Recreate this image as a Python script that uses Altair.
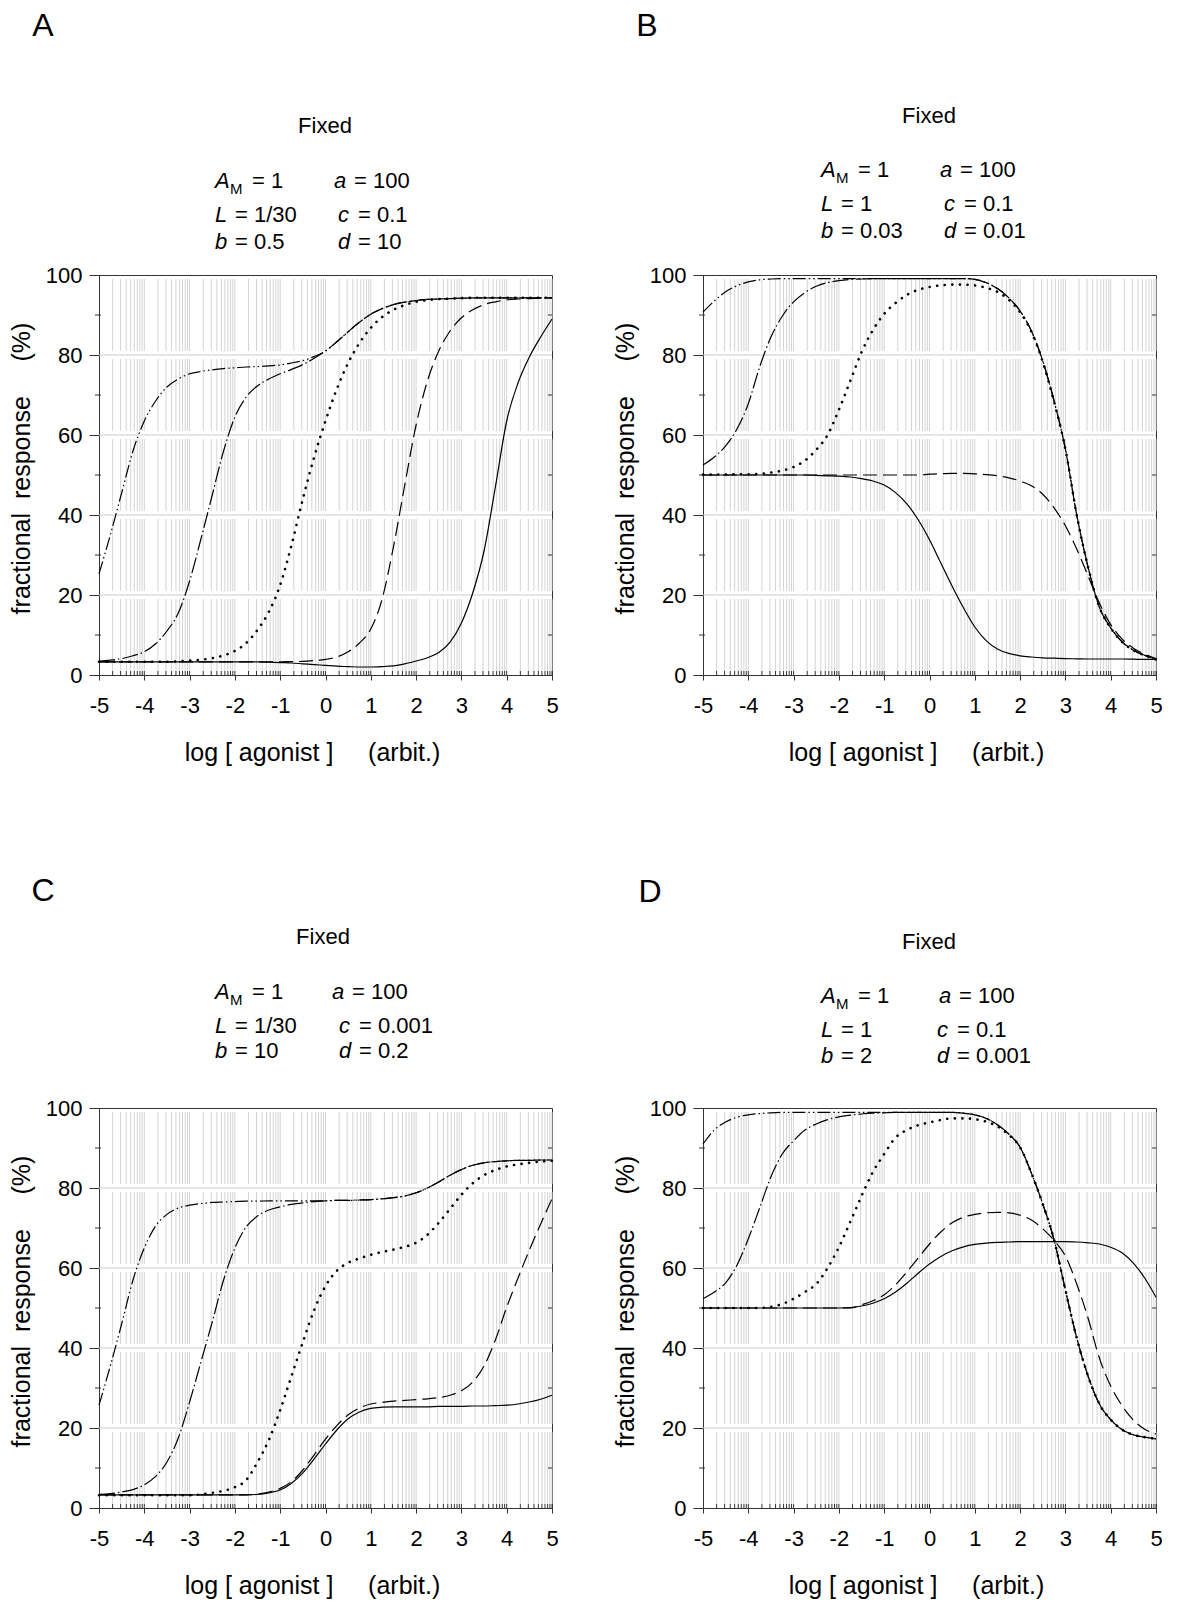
import math
import altair as alt
import pandas as pd

# ---------------- data ----------------
X = [-5.0, -4.75, -4.5, -4.25, -4.0, -3.75, -3.5, -3.25, -3.0, -2.75, -2.5, -2.25, -2.0,
     -1.75, -1.5, -1.25, -1.0, -0.75, -0.5, -0.25, 0.0, 0.25, 0.5, 0.75, 1.0, 1.25, 1.5,
     1.75, 2.0, 2.25, 2.5, 2.75, 3.0, 3.25, 3.5, 3.75, 4.0, 4.25, 4.5, 4.75, 5.0]

A1 = [25.3, 35.0, 45.5, 56.0, 63.5, 68.5, 72.0, 74.0, 75.3, 75.9, 76.3, 76.6, 76.8, 77.0, 77.1,
      77.3, 77.5, 78.0, 78.6, 79.6, 81.0, 83.3, 85.8, 88.2, 90.2, 91.6, 92.6, 93.2, 93.6, 93.9,
      94.0, 94.1, 94.2, 94.3, 94.3, 94.3, 94.3, 94.3, 94.3, 94.3, 94.3]
A2 = [3.5, 3.7, 4.1, 4.8, 5.8, 7.8, 11.0, 15.5, 23.5, 34.0, 45.0, 56.0, 64.5, 69.5, 72.3, 74.0,
      75.3, 76.4, 77.6, 79.2, 81.0, 83.3, 85.8, 88.2, 90.2, 91.6, 92.6, 93.2, 93.6, 93.9, 94.0,
      94.1, 94.2, 94.3, 94.3, 94.3, 94.3, 94.3, 94.3, 94.3, 94.3]
A3 = [3.3, 3.3, 3.3, 3.3, 3.3, 3.3, 3.3, 3.4, 3.6, 3.8, 4.2, 4.9, 6.0, 8.0, 11.3, 15.8, 22.5,
      32.5, 44.0, 54.5, 63.5, 71.5, 78.0, 83.0, 86.8, 89.5, 91.3, 92.5, 93.3, 93.7, 94.0, 94.1,
      94.2, 94.3, 94.3, 94.3, 94.3, 94.3, 94.3, 94.3, 94.3]
A4 = [3.3, 3.3, 3.3, 3.3, 3.3, 3.3, 3.3, 3.3, 3.3, 3.3, 3.3, 3.3, 3.3, 3.3, 3.3, 3.3, 3.3,
      3.35, 3.4, 3.6, 3.9, 4.5, 5.8, 8.0, 11.5, 19.0, 32.0, 47.5, 62.5, 73.5, 81.0, 86.0, 89.3,
      91.3, 92.6, 93.3, 93.8, 94.0, 94.1, 94.2, 94.3]
A5 = [3.3, 3.3, 3.3, 3.3, 3.3, 3.3, 3.3, 3.3, 3.3, 3.3, 3.3, 3.3, 3.3, 3.3, 3.3, 3.2, 3.1,
      3.0, 2.8, 2.6, 2.4, 2.2, 2.1, 2.0, 2.0, 2.1, 2.3, 2.8, 3.5, 4.3, 5.6, 8.2, 13.0, 20.5,
      31.0, 47.0, 63.5, 73.0, 79.5, 84.5, 89.0]

B1 = [90.7, 93.5, 95.8, 97.3, 98.3, 98.8, 99.0, 99.1, 99.1, 99.1, 99.1, 99.1, 99.1, 99.1, 99.1,
      99.1, 99.1, 99.1, 99.1, 99.1, 99.1, 99.1, 99.1, 99.1, 98.9, 98.1, 96.6, 94.3, 91.0, 86.0,
      78.5, 68.5, 56.5, 40.0, 27.0, 17.0, 11.8, 8.3, 6.2, 4.9, 3.9]
B2 = [52.5, 54.5, 57.3, 61.5, 67.8, 77.0, 84.5, 89.7, 93.3, 95.6, 97.2, 98.1, 98.6, 98.9, 99.0,
      99.1, 99.1, 99.1, 99.1, 99.1, 99.1, 99.1, 99.1, 99.1, 98.9, 98.1, 96.6, 94.3, 91.0, 86.0,
      78.5, 68.5, 56.5, 40.0, 27.0, 17.0, 11.8, 8.3, 6.2, 4.9, 3.9]
B3 = [50.1, 50.1, 50.1, 50.2, 50.2, 50.3, 50.6, 51.1, 52.0, 53.6, 56.3, 60.0, 66.3, 73.5, 80.7,
      86.2, 90.3, 93.0, 95.0, 96.3, 97.0, 97.4, 97.6, 97.6, 97.4, 96.8, 95.8, 93.8, 90.7, 85.8,
      78.3, 68.3, 56.5, 40.0, 27.0, 17.0, 11.8, 8.3, 6.2, 4.9, 3.9]
B4 = [50.0, 50.0, 50.0, 50.0, 50.0, 50.0, 50.0, 50.0, 50.0, 50.0, 50.0, 50.0, 50.0, 50.0, 50.0,
      50.0, 50.0, 50.0, 50.0, 50.0, 50.2, 50.3, 50.4, 50.4, 50.3, 50.1, 49.8, 49.3, 48.5, 47.3,
      45.2, 41.8, 37.3, 31.5, 24.8, 18.0, 12.6, 9.0, 6.7, 5.2, 4.1]
B5 = [50.0, 50.0, 50.0, 50.0, 50.0, 50.0, 50.0, 50.0, 50.0, 50.0, 49.9, 49.8, 49.7, 49.5, 49.1,
      48.5, 47.5, 45.6, 42.8, 38.8, 33.8, 28.0, 22.2, 16.8, 12.0, 8.6, 6.5, 5.4, 4.8, 4.5, 4.3,
      4.2, 4.1, 4.05, 4.0, 4.0, 4.0, 4.0, 3.95, 3.9, 3.9]

C1 = [25.7, 35.5, 46.0, 57.0, 65.0, 70.5, 73.4, 75.0, 75.7, 76.1, 76.4, 76.5, 76.6, 76.7, 76.7,
      76.8, 76.8, 76.8, 76.8, 76.8, 76.8, 76.9, 76.9, 77.0, 77.1, 77.3, 77.6, 78.0, 78.8, 80.0,
      81.5, 83.2, 84.6, 85.7, 86.3, 86.6, 86.8, 86.9, 86.9, 87.0, 87.0]
C2 = [3.4, 3.6, 4.0, 4.6, 5.8, 7.9, 11.5, 17.5, 26.5, 36.5, 46.5, 57.0, 65.0, 70.3, 73.0, 74.5,
      75.3, 75.9, 76.3, 76.6, 76.8, 76.9, 76.9, 77.0, 77.1, 77.3, 77.6, 78.0, 78.8, 80.0, 81.5,
      83.2, 84.6, 85.7, 86.3, 86.6, 86.8, 86.9, 86.9, 87.0, 87.0]
C3 = [3.2, 3.2, 3.2, 3.2, 3.2, 3.2, 3.2, 3.2, 3.2, 3.4, 3.8, 4.3, 5.2, 7.0, 11.5, 17.0, 24.5,
      33.0, 41.5, 49.5, 55.5, 59.3, 61.3, 62.4, 63.3, 64.0, 64.6, 65.3, 66.3, 68.3, 71.3, 74.8,
      78.3, 81.2, 83.2, 84.5, 85.4, 85.9, 86.3, 86.6, 86.8]
C4 = [3.3, 3.3, 3.3, 3.3, 3.3, 3.3, 3.3, 3.3, 3.3, 3.3, 3.3, 3.3, 3.3, 3.3, 3.5, 4.0, 4.9, 6.6,
      9.5, 13.3, 17.2, 20.6, 23.3, 25.0, 26.0, 26.4, 26.7, 26.9, 27.1, 27.3, 27.6, 28.2, 29.3,
      31.5, 35.5, 42.0, 50.2, 57.5, 64.5, 71.0, 77.3]
C5 = [3.3, 3.3, 3.3, 3.3, 3.3, 3.3, 3.3, 3.3, 3.3, 3.3, 3.3, 3.3, 3.3, 3.3, 3.4, 3.8, 4.5, 6.2,
      8.8, 12.3, 16.0, 19.5, 22.3, 24.0, 24.9, 25.2, 25.3, 25.3, 25.3, 25.3, 25.4, 25.4, 25.4,
      25.5, 25.5, 25.6, 25.7, 26.0, 26.5, 27.2, 28.2]

D1 = [91.0, 94.5, 96.5, 97.7, 98.3, 98.6, 98.8, 98.9, 98.9, 98.9, 98.9, 98.9, 98.9, 98.9, 98.9,
      98.9, 98.9, 98.9, 98.9, 98.9, 98.9, 98.9, 98.9, 98.7, 98.3, 97.4, 95.8, 93.5, 90.2, 83.7,
      76.0, 67.0, 54.5, 42.5, 33.0, 26.0, 22.1, 19.6, 18.3, 17.7, 17.3]
D2 = [52.3, 54.0, 56.3, 60.7, 67.3, 75.0, 82.8, 88.5, 91.8, 94.5, 96.0, 97.1, 97.8, 98.2, 98.5,
      98.7, 98.8, 98.9, 98.9, 98.9, 98.9, 98.9, 98.9, 98.7, 98.3, 97.4, 95.8, 93.5, 90.2, 83.7,
      76.0, 67.0, 54.5, 42.5, 33.0, 26.0, 22.1, 19.6, 18.3, 17.7, 17.3]
D3 = [50.0, 50.0, 50.0, 50.0, 50.0, 50.0, 50.3, 51.0, 52.3, 54.0, 56.0, 60.0, 65.2, 71.5, 78.0,
      84.0, 88.5, 92.6, 94.5, 95.7, 96.4, 97.0, 97.4, 97.4, 97.2, 96.6, 95.4, 93.3, 90.2, 83.7,
      76.0, 67.0, 54.5, 42.5, 33.0, 26.0, 22.1, 19.6, 18.3, 17.7, 17.3]
D4 = [50.0, 50.0, 50.0, 50.0, 50.0, 50.0, 50.0, 50.0, 50.0, 50.0, 50.0, 50.0, 50.0, 50.0, 50.8,
      51.8, 53.3, 55.8, 59.0, 62.5, 66.0, 69.0, 71.3, 72.7, 73.4, 73.8, 73.9, 73.8, 73.2, 72.0,
      69.8, 66.9, 63.0, 56.0, 47.5, 37.5, 30.5, 25.6, 22.0, 19.7, 18.5]
D5 = [50.0, 50.0, 50.0, 50.0, 50.0, 50.0, 50.0, 50.0, 50.0, 50.0, 50.0, 50.0, 50.0, 50.1, 50.5,
      51.2, 52.3, 54.0, 56.2, 58.7, 61.0, 62.9, 64.3, 65.3, 65.9, 66.2, 66.4, 66.5, 66.6, 66.6,
      66.6, 66.6, 66.6, 66.5, 66.3, 66.0, 65.2, 63.8, 61.2, 57.5, 52.7]

PANEL_LETTERS = ["A", "B", "C", "D"]
PANEL_CURVES = [[A1, A2, A3, A4, A5], [B1, B2, B3, B4, B5],
                [C1, C2, C3, C4, C5], [D1, D2, D3, D4, D5]]
# (symbol, subscript, value) : left column rows then right column rows
PANEL_PARAMS = [
    [("A", "M", "= 1"), ("L", "", "= 1/30"), ("b", "", "= 0.5"),
     ("a", "", "= 100"), ("c", "", "= 0.1"), ("d", "", "= 10")],
    [("A", "M", "= 1"), ("L", "", "= 1"), ("b", "", "= 0.03"),
     ("a", "", "= 100"), ("c", "", "= 0.1"), ("d", "", "= 0.01")],
    [("A", "M", "= 1"), ("L", "", "= 1/30"), ("b", "", "= 10"),
     ("a", "", "= 100"), ("c", "", "= 0.001"), ("d", "", "= 0.2")],
    [("A", "M", "= 1"), ("L", "", "= 1"), ("b", "", "= 2"),
     ("a", "", "= 100"), ("c", "", "= 0.1"), ("d", "", "= 0.001")],
]
HEADING = "Fixed"
X_TICKS = [-5, -4, -3, -2, -1, 0, 1, 2, 3, 4, 5]
Y_TICKS = [0, 20, 40, 60, 80, 100]
GRID_Y = [20, 40, 60, 80]
MINOR_Y = [10, 30, 50, 70, 90]
NB = "\u00a0"
X_TITLE = "log [ agonist ]" + NB * 5 + "(arbit.)"
Y_TITLE = "fractional" + NB * 2 + "response" + NB * 5 + "(%)"

# ---------------- layout / style ----------------
FONT = "Liberation Sans, Arial, Helvetica, sans-serif"
W, H = 453, 400
LAYOUT = [
    dict(letter=(-56, -249), head=(226, -149), rows=(-94, -60, -33), lx=116, rx=(235, 239, 239)),
    dict(letter=(-56, -249), head=(226, -159), rows=(-105, -71, -44), lx=118, rx=(237, 241, 241)),
    dict(letter=(-56, -217), head=(224, -171), rows=(-116, -82, -57), lx=116, rx=(233, 240, 240)),
    dict(letter=(-53, -216), head=(226, -166), rows=(-112, -78, -52), lx=118, rx=(236, 234, 234)),
]
STYLES = [
    dict(strokeDash=[13, 3, 1.5, 3, 1.5, 3], strokeWidth=1.2),
    dict(strokeDash=[16, 3, 1.5, 3], strokeWidth=1.2),
    dict(strokeDash=[0.1, 7.5], strokeWidth=2.6, strokeCap="round"),
    dict(strokeDash=[14, 6], strokeWidth=1.2),
    dict(strokeWidth=1.2),
]
DRAW_ORDER = [4, 3, 1, 0, 2]

VGRID = [d + math.log10(k) for d in range(-5, 5) for k in range(2, 11)]

xs = alt.Scale(domain=[-5, 5], nice=False, zero=False)
ys = alt.Scale(domain=[0, 100], nice=False, zero=False)

x_axis = alt.Axis(values=X_TICKS, labelExpr="'' + datum.value", title=X_TITLE, grid=False,
                  tickSize=5, labelPadding=15, labelFontSize=22, labelFont=FONT,
                  titleFont=FONT, titleFontSize=25, titleFontWeight="normal",
                  titleX=213, titleY=77, titleBaseline="middle", titleAlign="center",
                  domainColor="#333", tickColor="#333", labelColor="#000", titleColor="#000",
                  labelFlush=False)
y_axis = alt.Axis(values=Y_TICKS, title=Y_TITLE, grid=False, tickSize=10, labelPadding=7,
                  labelFontSize=22, labelFont=FONT, titleFont=FONT, titleFontSize=25,
                  titleFontWeight="normal", titleX=-78, titleY=193, titleAngle=270,
                  titleBaseline="middle", titleAlign="center", domainColor="#333",
                  tickColor="#333", labelColor="#000", titleColor="#000", labelFlush=False)

ONE = pd.DataFrame({"k": [0]})


def text(s, x, y, size, style="normal", align="left"):
    return alt.Chart(ONE).mark_text(text=s, font=FONT, fontSize=size, fontStyle=style,
                                    align=align, baseline="middle", color="#000").encode(
        x=alt.value(x), y=alt.value(y))


def XE(field):
    return alt.X(field, scale=xs, axis=x_axis)


def YE(field):
    return alt.Y(field, scale=ys, axis=y_axis)


def panel(i):
    lay = LAYOUT[i]
    curves = PANEL_CURVES[i]
    curve_layers = []
    for ci in DRAW_ORDER:
        df = pd.DataFrame({"x": X, "y": curves[ci]})
        curve_layers.append(alt.Chart(df).mark_line(color="#000", interpolate="monotone",
                                                    **STYLES[ci]).encode(x=XE("x:Q"), y=YE("y:Q")))
    layers = []
    gx = pd.DataFrame({"x": VGRID})
    layers.append(alt.Chart(pd.DataFrame({"y": GRID_Y})).mark_rule(
        color="#cccccc", strokeWidth=1).encode(y=YE("y:Q"), x=alt.value(0), x2=alt.value(W)))
    layers.append(alt.Chart(gx).mark_rule(
        color="#d4d4d4", strokeWidth=1, strokeDash=[72, 8], strokeDashOffset=76).encode(
        x=XE("x:Q"), y=alt.value(0), y2=alt.value(H)))
    layers.append(alt.Chart(gx).mark_rule(color="#333", strokeWidth=1).encode(
        x=XE("x:Q"), y=alt.value(H - 4), y2=alt.value(H)))
    ym = pd.DataFrame({"y": MINOR_Y})
    layers.append(alt.Chart(ym).mark_rule(color="#333").encode(
        y=YE("y:Q"), x=alt.value(-4), x2=alt.value(2)))
    layers.append(alt.Chart(ym).mark_rule(color="#333").encode(
        y=YE("y:Q"), x=alt.value(W - 4), x2=alt.value(W)))
    layers.extend(curve_layers)

    lx_, ly_ = lay["letter"]
    layers.append(text(PANEL_LETTERS[i], lx_, ly_, 32, align="center"))
    hx, hy = lay["head"]
    layers.append(text(HEADING, hx, hy, 22, align="center"))
    params = PANEL_PARAMS[i]
    for r in range(3):
        y = lay["rows"][r]
        sym, sub, val = params[r]
        x0 = lay["lx"]
        layers.append(text(sym, x0, y, 22, style="italic"))
        if sub:
            layers.append(text(sub, x0 + 15, y + 8, 15))
            layers.append(text(val, x0 + 37, y, 22))
        else:
            layers.append(text(val, x0 + 20, y, 22))
        sym, sub, val = params[3 + r]
        x1 = lay["rx"][r]
        layers.append(text(sym, x1, y, 22, style="italic"))
        layers.append(text(val, x1 + 20, y, 22))
    return alt.layer(*layers).properties(width=W, height=H)


top = alt.hconcat(panel(0), panel(1), spacing=53)
bottom = alt.hconcat(panel(2), panel(3), spacing=53)
chart = alt.vconcat(top, bottom, spacing=108).configure(
    padding={"left": 0, "top": 1, "right": 0, "bottom": 0}
).configure_view(stroke="#333", strokeWidth=1)

chart.save("out.html", embed_options={"renderer": "svg", "actions": False})
